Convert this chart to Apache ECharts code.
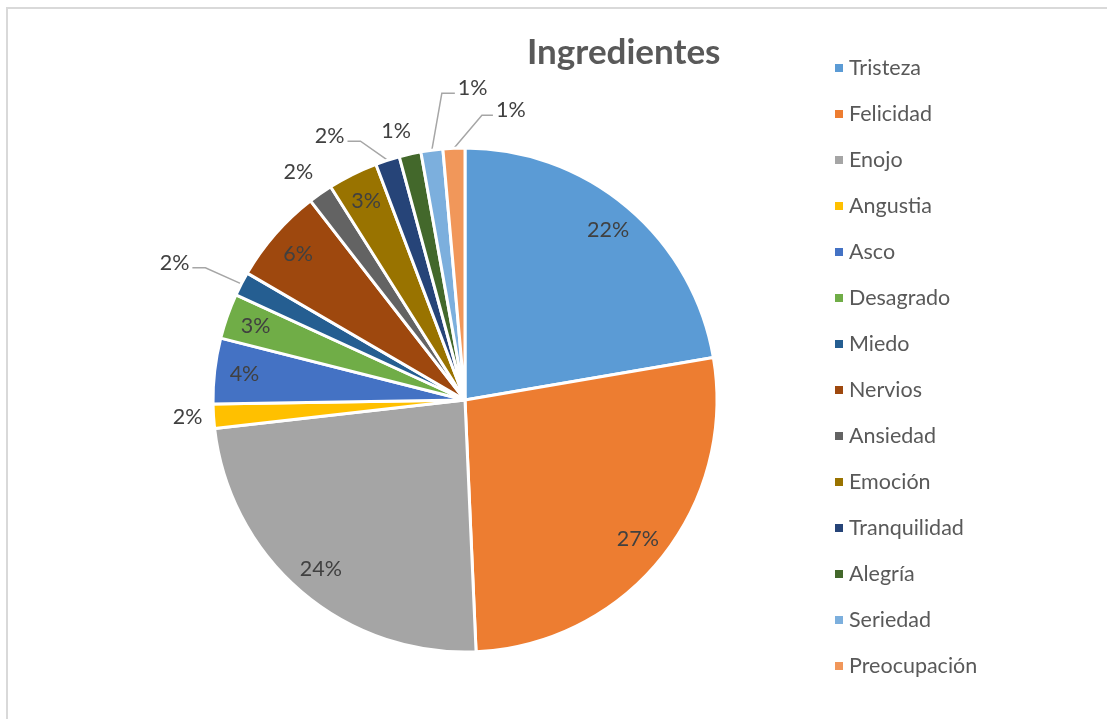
<!DOCTYPE html>
<html>
<head>
<meta charset="utf-8">
<script src="https://cdn.jsdelivr.net/npm/echarts@6/dist/echarts.min.js"></script>
<style>
  html, body { margin: 0; padding: 0; background: #fff; }
  #frame {
    position: absolute; left: 6px; top: 7px; width: 1110px; height: 720px;
    border-left: 2px solid #d9d9d9; border-top: 2px solid #d9d9d9;
  }
  #chart { position: absolute; left: 0; top: 0; width: 1107px; height: 719px; }
</style>
</head>
<body>
<div id="frame"></div>
<div id="chart"></div>
<script>
// categorias y valores (porcentaje aproximado)
const categories = ['Tristeza', 'Felicidad', 'Enojo', 'Angustia', 'Asco', 'Desagrado', 'Miedo',
  'Nervios', 'Ansiedad', 'Emoción', 'Tranquilidad', 'Alegría', 'Seriedad', 'Preocupación']
const values = [22.3, 27, 23.9, 1.55, 4.2, 2.9, 1.55, 6.1, 1.55, 3.2, 1.55, 1.4, 1.4, 1.4]
const colors = ['#5b9bd5', '#ed7d31', '#a5a5a5', '#ffc000', '#4472c4', '#70ad47', '#255e91',
  '#9e480e', '#636363', '#997300', '#264478', '#43682b', '#7cafdd', '#f1975a']

// etiquetas fuera del sector: off = desplazamiento sin linea, line = [codo dx, codo dy, fin dx, fin dy]
const outside = {
  3: { off: [-26, 1] },
  6: { line: [-36, -16, -49, -16], align: 'right' },
  8: { off: [-22, -22] },
  10: { line: [-27, -19, -40, -19], align: 'right' },
  11: { off: [-14, -23] },
  12: { line: [10, -57, 23, -57], align: 'left' },
  13: { line: [28, -33, 39, -33], align: 'left' }
}

const total = values.reduce((a, b) => a + b, 0)
const font = 'Lato, "Open Sans", sans-serif'

let myChart = echarts.init(document.getElementById('chart'))

let pieData = categories.map((name, i) => ({
  name,
  value: values[i],
  itemStyle: { color: colors[i] }
}))

let labelData = categories.map((name, i) => {
  let o = outside[i]
  return {
    name,
    value: values[i],
    label: { position: o ? 'outside' : 'inside' },
    labelLine: { show: !!(o && o.line) }
  }
})

myChart.setOption({
  color: colors,
  textStyle: { fontFamily: font },
  animation: false,
  title: {
    text: 'Ingredientes',
    left: 522,
    top: 30,
    textStyle: { fontFamily: font, fontSize: 35, fontWeight: 'bold', color: '#595959' }
  },
  legend: {
    orient: 'vertical',
    left: 828,
    top: 52,
    icon: 'rect',
    itemWidth: 10,
    itemHeight: 10,
    itemGap: 24,
    data: categories,
    textStyle: { fontFamily: font, fontSize: 21.5, lineHeight: 21, color: '#595959' }
  },
  series: [
    {
      name: 'Ingredientes',
      type: 'pie',
      center: [465, 400],
      radius: [0, 252],
      startAngle: 90,
      clockwise: true,
      silent: true,
      label: { show: false },
      labelLine: { show: false },
      itemStyle: { borderColor: '#fff', borderWidth: 3 },
      data: pieData
    },
    {
      // anillo transparente solo para ubicar las etiquetas
      name: 'etiquetas',
      type: 'pie',
      center: [465, 400],
      radius: [186, 252],
      startAngle: 90,
      clockwise: true,
      silent: true,
      avoidLabelOverlap: false,
      itemStyle: { color: 'rgba(0,0,0,0)', borderWidth: 0 },
      label: {
        show: true,
        fontFamily: font,
        fontSize: 21.5,
        color: '#404040',
        formatter: p => Math.round((p.value / total) * 100) + '%'
      },
      labelLine: {
        length: 10,
        length2: 10,
        lineStyle: { color: '#a6a6a6', width: 1.5 }
      },
      labelLayout: params => {
        let o = outside[params.dataIndex]
        if (!o || !params.labelLinePoints) return {}
        let p0 = params.labelLinePoints[0]
        if (o.off) {
          return { x: p0[0] + o.off[0], y: p0[1] + o.off[1], align: 'center', verticalAlign: 'middle' }
        }
        let l = o.line
        let p1 = [p0[0] + l[0], p0[1] + l[1]]
        let p2 = [p0[0] + l[2], p0[1] + l[3]]
        return {
          x: p2[0] + (o.align === 'right' ? -3 : 3),
          y: p2[1] - 5,
          align: o.align,
          verticalAlign: 'middle',
          labelLinePoints: [p0, p1, p2]
        }
      },
      data: labelData
    }
  ]
})
</script>
</body>
</html>
